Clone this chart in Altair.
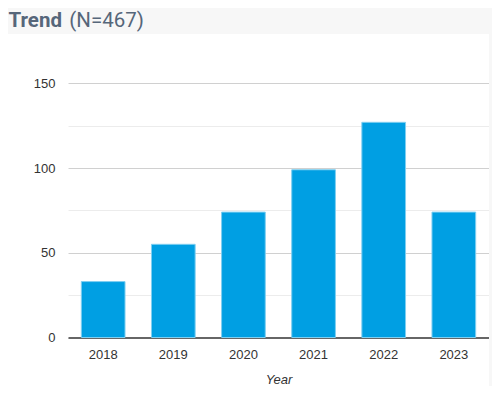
import altair as alt
import pandas as pd

years = ["2018", "2019", "2020", "2021", "2022", "2023"]
counts = [33, 55, 74, 99, 127, 74]
title_main = "Trend"
title_n = "(N=467)"
y_ticks = [0, 25, 50, 75, 100, 125, 150]

df = pd.DataFrame({"Year": years, "Count": counts})
one = pd.DataFrame({"k": [0]})

W, H = 421, 296.5
GRAY = "#f7f7f7"
TITLE_COLOR = "#56667a"

top_strip = alt.Chart(one).mark_rect(color=GRAY).encode(
    x=alt.value(-70), x2=alt.value(440), y=alt.value(-41), y2=alt.value(-7)
)
right_strip = alt.Chart(one).mark_rect(color=GRAY).encode(
    x=alt.value(421), x2=alt.value(440), y=alt.value(-41), y2=alt.value(380)
)

t_main = alt.Chart(one).mark_text(
    text=title_main, font="Roboto", fontSize=20.5, fontWeight="bold",
    color=TITLE_COLOR, align="left", baseline="alphabetic"
).encode(x=alt.value(-59.5), y=alt.value(-14.3))

t_n = alt.Chart(one).mark_text(
    text=title_n, font="Roboto", fontSize=20.5, fontWeight="normal",
    color=TITLE_COLOR, align="left", baseline="alphabetic"
).encode(x=alt.value(1.3), y=alt.value(-14.3))

bars = alt.Chart(df).mark_bar(
    color="#009FE3", stroke="#7FCFF1", strokeWidth=1
).encode(
    x=alt.X(
        "Year:N", sort=years,
        scale=alt.Scale(paddingInner=0.377, paddingOuter=0.19),
        axis=alt.Axis(
            title="Year", titleFontStyle="italic", titleFontWeight="normal",
            titleFont="Liberation Sans", titleFontSize=13, titleColor="#333333",
            titlePadding=12,
            labelAngle=0, labelFont="Liberation Sans", labelFontSize=13,
            labelColor="#333333", labelPadding=11,
            ticks=False, tickSize=0, domainColor="#666666", domainWidth=2,
            grid=False,
        ),
    ),
    y=alt.Y(
        "Count:Q",
        scale=alt.Scale(domain=[0, 175], nice=False),
        axis=alt.Axis(
            title=None, values=y_ticks,
            labelExpr="datum.value % 50 === 0 ? datum.label : ''",
            labelFont="Liberation Sans", labelFontSize=13, labelColor="#333333",
            labelPadding=13, ticks=False, tickSize=0, domain=False,
            gridColor={"condition": {"test": "datum.value % 50 === 0", "value": "#d0d0d0"},
                       "value": "#ececec"},
            gridWidth=1,
        ),
    ),
)

chart = alt.layer(top_strip, right_strip, t_main, t_n, bars).properties(
    width=W, height=H,
    background="white",
    padding={"left": 60, "top": 33, "right": 3, "bottom": 48},
    autosize=alt.AutoSizeParams(type="none"),
).configure_view(strokeWidth=0)

chart.save("out.html", embed_options={"renderer": "svg", "actions": False})
